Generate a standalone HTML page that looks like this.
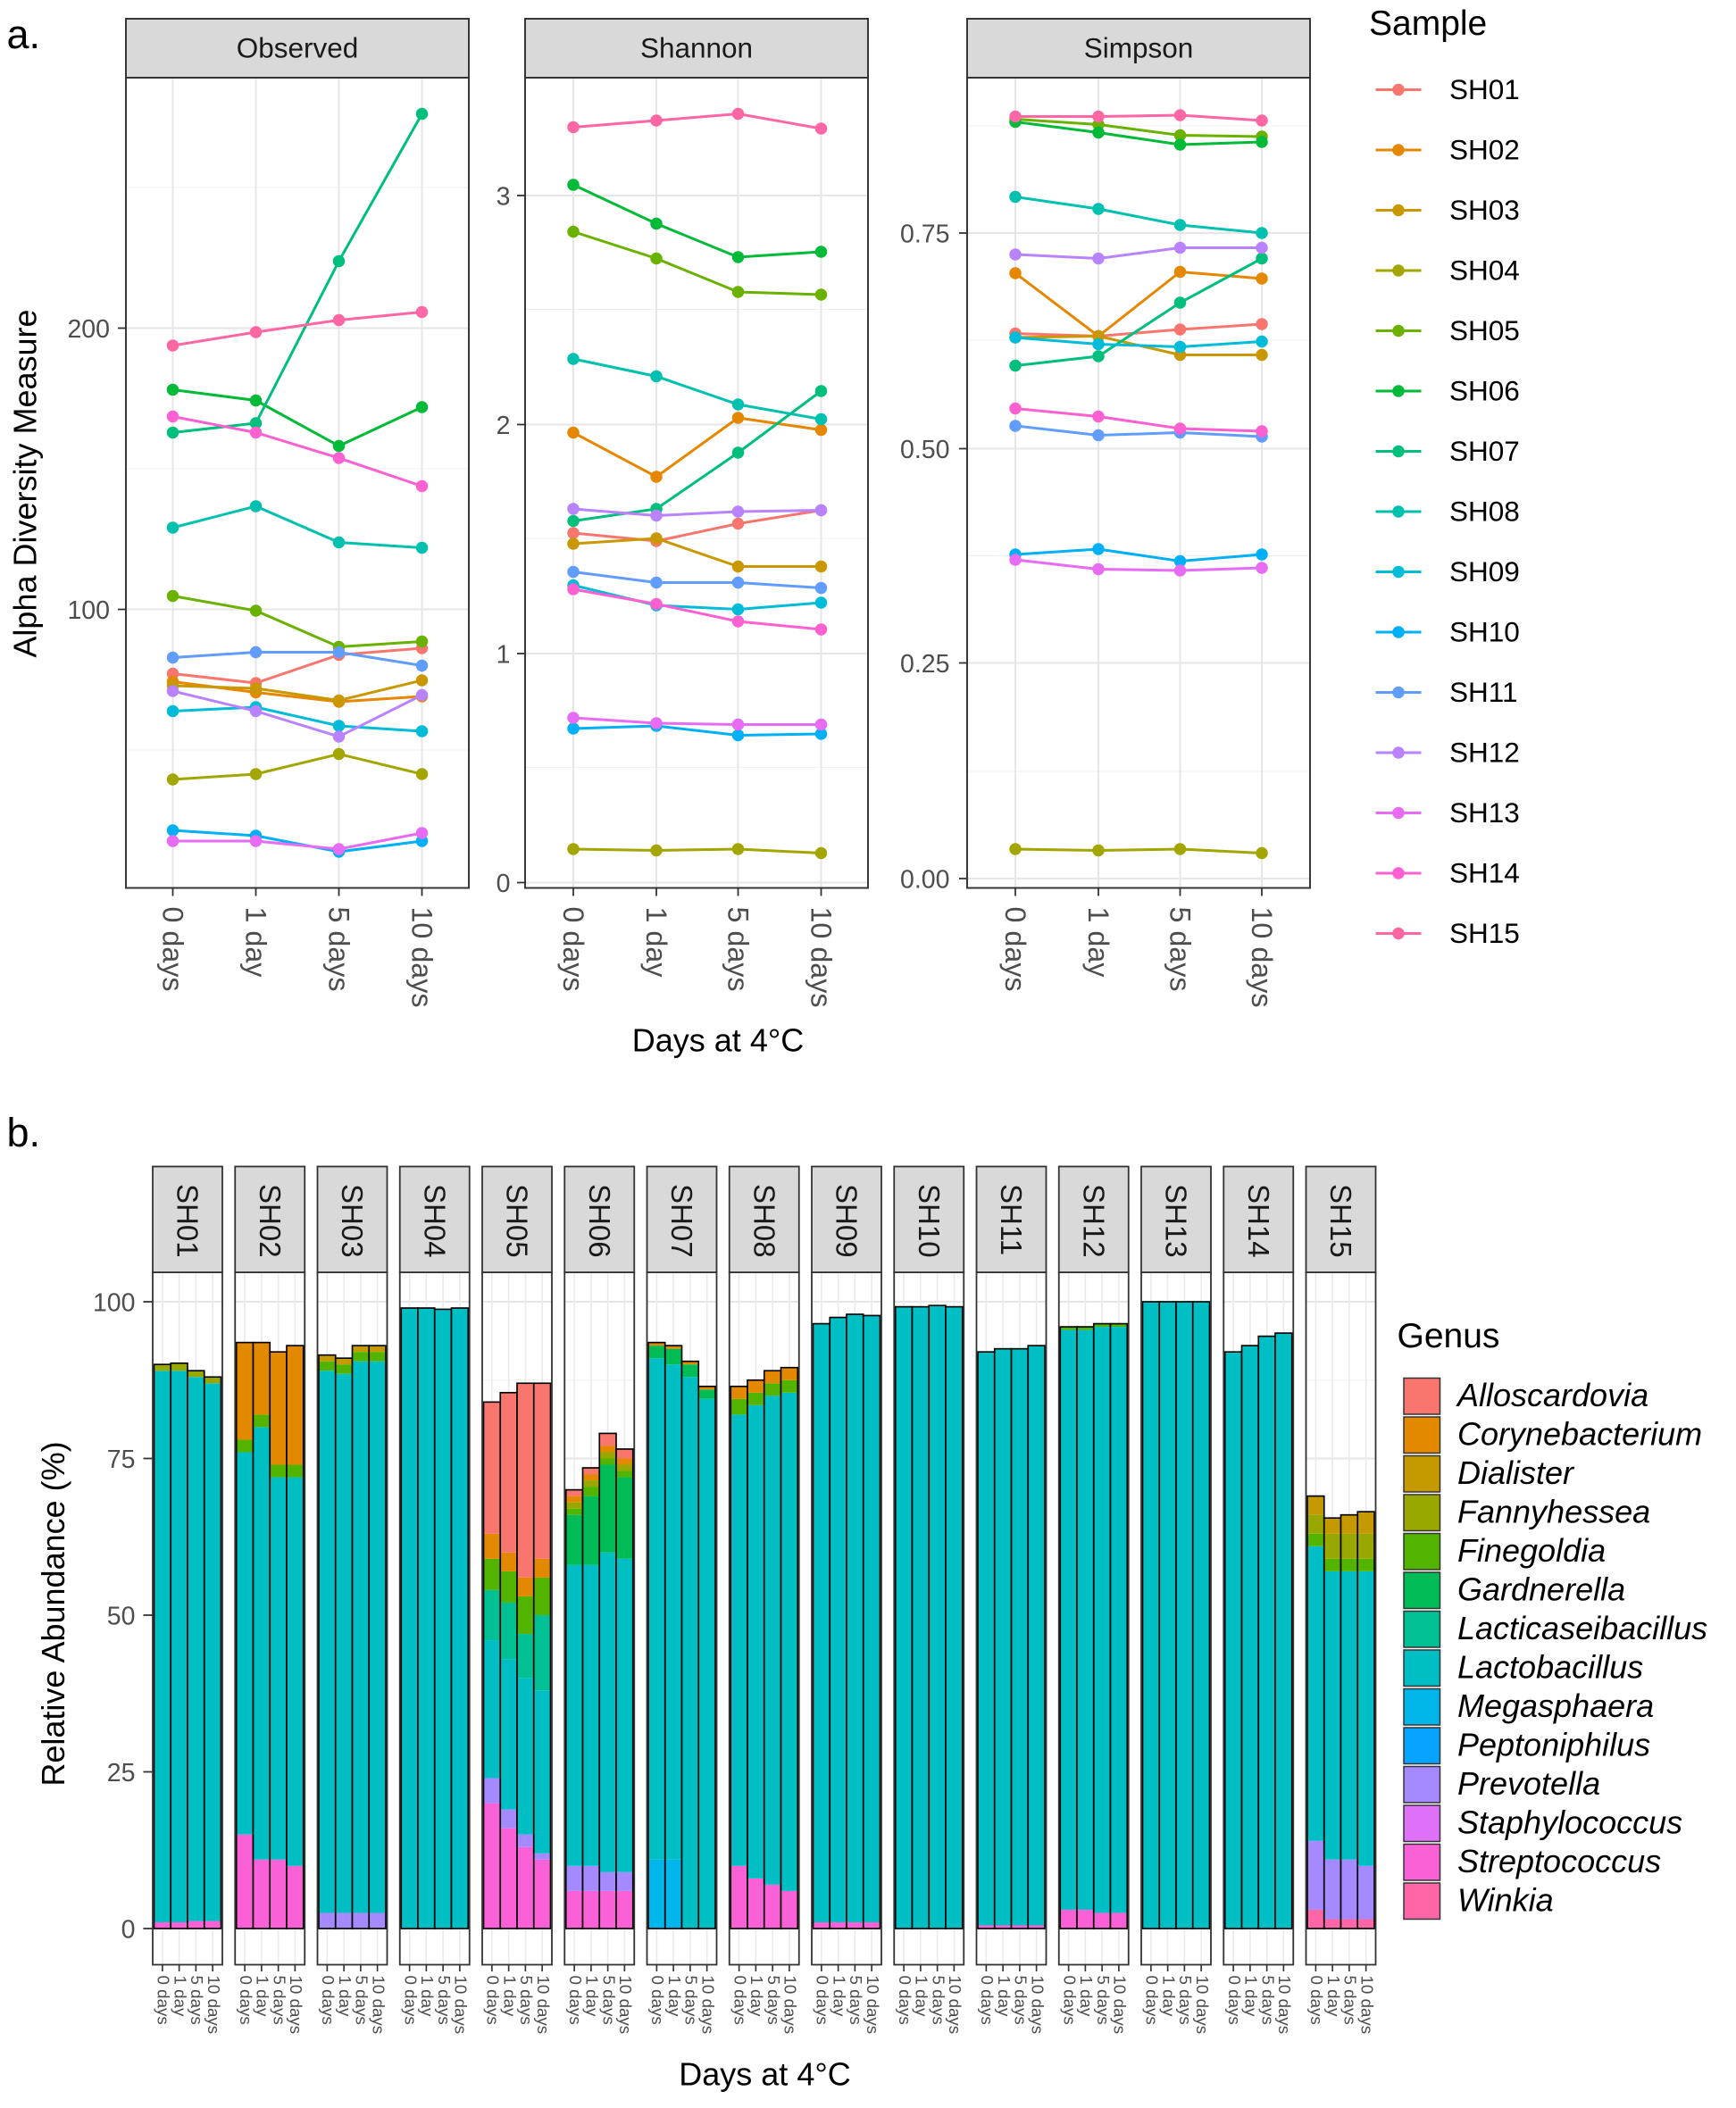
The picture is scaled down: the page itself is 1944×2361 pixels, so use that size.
<!DOCTYPE html>
<html><head><meta charset="utf-8"><style>
html,body{margin:0;padding:0;background:#fff;}
svg{display:block;font-family:"Liberation Sans",Arial,sans-serif;}
</style></head><body>
<svg id="s" xmlns="http://www.w3.org/2000/svg" width="1944" height="2361" viewBox="0 0 1296 1574">
<rect width="1296" height="1574" fill="#fff"/>
<g id="grid"></g>
<g id="data"></g>
<g id="frames"></g>
<g id="txt" fill="#4d4d4d" font-size="19">
<text x="5" y="36" font-size="30" fill="#000">a.</text>
<text x="5" y="856" font-size="30" fill="#000">b.</text>
<g fill="#1a1a1a" font-size="21" text-anchor="middle">
<text x="222" y="43">Observed</text><text x="520" y="43">Shannon</text><text x="850" y="43">Simpson</text>
</g>
<g text-anchor="end">
<text x="82" y="252">200</text><text x="82" y="462">100</text>
<text x="381" y="153">3</text><text x="381" y="324">2</text><text x="381" y="495">1</text><text x="381" y="666">0</text>
<text x="709" y="181">0.75</text><text x="709" y="342">0.50</text><text x="709" y="502">0.25</text><text x="709" y="663">0.00</text>
</g>
<g font-size="21.5" dominant-baseline="central">
<text transform="translate(129,677) rotate(90)">0 days</text><text transform="translate(191,677) rotate(90)">1 day</text><text transform="translate(253,677) rotate(90)">5 days</text><text transform="translate(315,677) rotate(90)">10 days</text>
<text transform="translate(428,677) rotate(90)">0 days</text><text transform="translate(490,677) rotate(90)">1 day</text><text transform="translate(551,677) rotate(90)">5 days</text><text transform="translate(613,677) rotate(90)">10 days</text>
<text transform="translate(758,677) rotate(90)">0 days</text><text transform="translate(820,677) rotate(90)">1 day</text><text transform="translate(881,677) rotate(90)">5 days</text><text transform="translate(942,677) rotate(90)">10 days</text>
</g>
<text transform="translate(27,361) rotate(-90)" text-anchor="middle" font-size="24" fill="#000">Alpha Diversity Measure</text>
<text x="536" y="785" text-anchor="middle" font-size="24" fill="#000">Days at 4°C</text>
<text x="1022" y="26" font-size="26" fill="#000">Sample</text>
<g font-size="21" fill="#000">
<text x="1082" y="74">SH01</text><text x="1082" y="119">SH02</text><text x="1082" y="164">SH03</text><text x="1082" y="209">SH04</text><text x="1082" y="254">SH05</text><text x="1082" y="299">SH06</text><text x="1082" y="344">SH07</text><text x="1082" y="389">SH08</text><text x="1082" y="434">SH09</text><text x="1082" y="479">SH10</text><text x="1082" y="524">SH11</text><text x="1082" y="569">SH12</text><text x="1082" y="614">SH13</text><text x="1082" y="659">SH14</text><text x="1082" y="704">SH15</text>
</g>
<g text-anchor="end">
<text x="101" y="979">100</text><text x="101" y="1096">75</text><text x="101" y="1213">50</text><text x="101" y="1330">25</text><text x="101" y="1447">0</text>
</g>
<text transform="translate(48,1205) rotate(-90)" text-anchor="middle" font-size="24" fill="#000">Relative Abundance (%)</text>
<text x="571" y="1557" text-anchor="middle" font-size="24" fill="#000">Days at 4°C</text>
<g font-size="22" fill="#1a1a1a" dominant-baseline="central">
<text transform="translate(140,884) rotate(90)">SH01</text><text transform="translate(201.5,884) rotate(90)">SH02</text><text transform="translate(263,884) rotate(90)">SH03</text><text transform="translate(324.5,884) rotate(90)">SH04</text><text transform="translate(386,884) rotate(90)">SH05</text><text transform="translate(447.5,884) rotate(90)">SH06</text><text transform="translate(509,884) rotate(90)">SH07</text><text transform="translate(570.5,884) rotate(90)">SH08</text><text transform="translate(632,884) rotate(90)">SH09</text><text transform="translate(693.5,884) rotate(90)">SH10</text><text transform="translate(755,884) rotate(90)">SH11</text><text transform="translate(816.5,884) rotate(90)">SH12</text><text transform="translate(878,884) rotate(90)">SH13</text><text transform="translate(939.5,884) rotate(90)">SH14</text><text transform="translate(1001,884) rotate(90)">SH15</text>
</g>
<text x="1043" y="1006" font-size="26" fill="#000">Genus</text>
<g font-size="24" fill="#000" font-style="italic">
<text x="1088" y="1050">Alloscardovia</text><text x="1088" y="1079">Corynebacterium</text><text x="1088" y="1108">Dialister</text><text x="1088" y="1137">Fannyhessea</text><text x="1088" y="1166">Finegoldia</text><text x="1088" y="1195">Gardnerella</text><text x="1088" y="1224">Lacticaseibacillus</text><text x="1088" y="1253">Lactobacillus</text><text x="1088" y="1282">Megasphaera</text><text x="1088" y="1311">Peptoniphilus</text><text x="1088" y="1340">Prevotella</text><text x="1088" y="1369">Staphylococcus</text><text x="1088" y="1398">Streptococcus</text><text x="1088" y="1427">Winkia</text>
</g>
<g id="btx" font-size="12.5" dominant-baseline="central">
<g transform="translate(114,0)"><text transform="translate(8,1475) rotate(90)">0 days</text><text transform="translate(20.5,1475) rotate(90)">1 day</text><text transform="translate(33,1475) rotate(90)">5 days</text><text transform="translate(45.5,1475) rotate(90)">10 days</text></g>
<g transform="translate(175.5,0)"><text transform="translate(8,1475) rotate(90)">0 days</text><text transform="translate(20.5,1475) rotate(90)">1 day</text><text transform="translate(33,1475) rotate(90)">5 days</text><text transform="translate(45.5,1475) rotate(90)">10 days</text></g>
<g transform="translate(237,0)"><text transform="translate(8,1475) rotate(90)">0 days</text><text transform="translate(20.5,1475) rotate(90)">1 day</text><text transform="translate(33,1475) rotate(90)">5 days</text><text transform="translate(45.5,1475) rotate(90)">10 days</text></g>
<g transform="translate(298.5,0)"><text transform="translate(8,1475) rotate(90)">0 days</text><text transform="translate(20.5,1475) rotate(90)">1 day</text><text transform="translate(33,1475) rotate(90)">5 days</text><text transform="translate(45.5,1475) rotate(90)">10 days</text></g>
<g transform="translate(360,0)"><text transform="translate(8,1475) rotate(90)">0 days</text><text transform="translate(20.5,1475) rotate(90)">1 day</text><text transform="translate(33,1475) rotate(90)">5 days</text><text transform="translate(45.5,1475) rotate(90)">10 days</text></g>
<g transform="translate(421.5,0)"><text transform="translate(8,1475) rotate(90)">0 days</text><text transform="translate(20.5,1475) rotate(90)">1 day</text><text transform="translate(33,1475) rotate(90)">5 days</text><text transform="translate(45.5,1475) rotate(90)">10 days</text></g>
<g transform="translate(483,0)"><text transform="translate(8,1475) rotate(90)">0 days</text><text transform="translate(20.5,1475) rotate(90)">1 day</text><text transform="translate(33,1475) rotate(90)">5 days</text><text transform="translate(45.5,1475) rotate(90)">10 days</text></g>
<g transform="translate(544.5,0)"><text transform="translate(8,1475) rotate(90)">0 days</text><text transform="translate(20.5,1475) rotate(90)">1 day</text><text transform="translate(33,1475) rotate(90)">5 days</text><text transform="translate(45.5,1475) rotate(90)">10 days</text></g>
<g transform="translate(606,0)"><text transform="translate(8,1475) rotate(90)">0 days</text><text transform="translate(20.5,1475) rotate(90)">1 day</text><text transform="translate(33,1475) rotate(90)">5 days</text><text transform="translate(45.5,1475) rotate(90)">10 days</text></g>
<g transform="translate(667.5,0)"><text transform="translate(8,1475) rotate(90)">0 days</text><text transform="translate(20.5,1475) rotate(90)">1 day</text><text transform="translate(33,1475) rotate(90)">5 days</text><text transform="translate(45.5,1475) rotate(90)">10 days</text></g>
<g transform="translate(729,0)"><text transform="translate(8,1475) rotate(90)">0 days</text><text transform="translate(20.5,1475) rotate(90)">1 day</text><text transform="translate(33,1475) rotate(90)">5 days</text><text transform="translate(45.5,1475) rotate(90)">10 days</text></g>
<g transform="translate(790.5,0)"><text transform="translate(8,1475) rotate(90)">0 days</text><text transform="translate(20.5,1475) rotate(90)">1 day</text><text transform="translate(33,1475) rotate(90)">5 days</text><text transform="translate(45.5,1475) rotate(90)">10 days</text></g>
<g transform="translate(852,0)"><text transform="translate(8,1475) rotate(90)">0 days</text><text transform="translate(20.5,1475) rotate(90)">1 day</text><text transform="translate(33,1475) rotate(90)">5 days</text><text transform="translate(45.5,1475) rotate(90)">10 days</text></g>
<g transform="translate(913.5,0)"><text transform="translate(8,1475) rotate(90)">0 days</text><text transform="translate(20.5,1475) rotate(90)">1 day</text><text transform="translate(33,1475) rotate(90)">5 days</text><text transform="translate(45.5,1475) rotate(90)">10 days</text></g>
<g transform="translate(975,0)"><text transform="translate(8,1475) rotate(90)">0 days</text><text transform="translate(20.5,1475) rotate(90)">1 day</text><text transform="translate(33,1475) rotate(90)">5 days</text><text transform="translate(45.5,1475) rotate(90)">10 days</text></g>
</g>
</g>
</svg>
<script>
var NS="http://www.w3.org/2000/svg";
function el(p,t,a){var e=document.createElementNS(NS,t);for(var k in a)e.setAttribute(k,a[k]);document.getElementById(p).appendChild(e);return e;}
var H15=["#F8766D","#E58700","#C99800","#A3A500","#6BB100","#00BA38","#00BF7D","#00C0AF","#00BCD8","#00B0F6","#619CFF","#B983FF","#E76BF3","#FD61D1","#FF67A4"];
var G14=["#F8766D","#E38900","#C49A00","#99A800","#53B400","#00BC56","#00C094","#00BFC4","#00B6EB","#06A4FF","#A58AFF","#DF70F8","#FB61D7","#FF66A8"];
var panels=[{x0:94,x1:350,xs:[129,191,253,315],maj:[245,455],min:[140,350,560],tick:88},
{x0:392,x1:648,xs:[428,490,551,613],maj:[146,317,488,659],min:[231,402,573],tick:386},
{x0:722,x1:978,xs:[758,820,881,942],maj:[174,335,495,656],min:[94,254,415,576],tick:716}];
panels.forEach(function(p){
 el("grid","rect",{x:p.x0,y:58,width:p.x1-p.x0,height:605,fill:"#fff"});
 p.min.forEach(function(y){el("grid","line",{x1:p.x0,x2:p.x1,y1:y,y2:y,stroke:"#f0f0f0","stroke-width":0.7});});
 p.maj.forEach(function(y){el("grid","line",{x1:p.x0,x2:p.x1,y1:y,y2:y,stroke:"#e6e6e6","stroke-width":1.3});
   el("frames","line",{x1:p.tick,x2:p.x0,y1:y,y2:y,stroke:"#333","stroke-width":1.2});});
 p.xs.forEach(function(x){el("grid","line",{x1:x,x2:x,y1:58,y2:663,stroke:"#e6e6e6","stroke-width":1.3});
   el("frames","line",{x1:x,x2:x,y1:663,y2:669,stroke:"#333","stroke-width":1.2});});
 el("frames","rect",{x:p.x0,y:58,width:p.x1-p.x0,height:605,fill:"none",stroke:"#333","stroke-width":1.3});
 el("frames","rect",{x:p.x0,y:14,width:p.x1-p.x0,height:44,fill:"#d9d9d9",stroke:"#333","stroke-width":1.3});
});
var D=[
[[503,510,489,484],[509,517,524,520],[512,514,523,508],[582,578,563,578],[445,456,483,479],[291,299,333,304],[323,316,195,85],[394,378,405,409],[531,528,542,546],[620,624,636,628],[491,487,487,497],[516,531,550,519],[628,628,634,622],[311,323,342,363],[258,248,239,233]],
[[398,404,391,381],[323,356,312,321],[406,402,423,423],[634,635,634,637],[173,193,218,220],[138,167,192,188],[389,380,338,292],[268,281,302,313],[437,452,455,450],[544,542,549,548],[427,435,435,439],[380,385,382,381],[536,540,541,541],[440,451,464,470],[95,90,85,96]],
[[249,251,246,242],[204,251,203,208],[252,251,265,265],[634,635,634,637],[89,93,101,102],[91,99,108,106],[273,266,226,193],[147,156,168,174],[252,257,259,255],[414,410,419,414],[318,325,323,326],[190,193,185,185],[418,425,426,424],[305,311,320,322],[87,87,86,90]]];
D.forEach(function(ser,pi){var xs=panels[pi].xs;
 ser.forEach(function(ys,si){var c=H15[si];
  el("data","polyline",{points:xs.map(function(x,i){return x+","+ys[i];}).join(" "),fill:"none",stroke:c,"stroke-width":2});
  xs.forEach(function(x,i){el("data","circle",{cx:x,cy:ys[i],r:4.5,fill:c});});
 });});
for(var i=0;i<15;i++){var y=67+45*i;el("data","line",{x1:1027,x2:1061,y1:y,y2:y,stroke:H15[i],"stroke-width":2});el("data","circle",{cx:1044,cy:y,r:4.5,fill:H15[i]});}
var B=[
[[[12,1],[7,88],[3,1]],[[12,1],[7,88],[3,1.2]],[[12,1.2],[7,86.8],[3,1]],[[12,1.2],[7,85.8],[3,1]]],
[[[12,15],[7,61],[4,2],[1,15.5]],[[12,11],[7,69],[4,2],[1,11.5]],[[12,11],[7,61],[4,2],[1,18]],[[12,10],[7,62],[4,2],[1,19]]],
[[[10,2.5],[7,86.5],[4,1.5],[2,1]],[[10,2.5],[7,86],[4,1.5],[2,1]],[[10,2.5],[7,88],[4,1.5],[2,1]],[[10,2.5],[7,88],[4,1.5],[2,1]]],
[[[7,99]],[[7,99]],[[7,98.8]],[[7,99]]],
[[[12,20],[10,4],[7,22],[6,8],[4,5],[1,4],[0,21]],[[12,16],[10,3],[7,24],[6,9],[4,5],[1,3],[0,25.5]],[[12,13],[10,2],[7,25],[6,7],[4,6],[1,3],[0,31]],[[12,11],[10,1],[7,26],[6,12],[4,6],[1,3],[0,28]]],
[[[12,6],[10,4],[7,48],[5,8],[4,1],[3,1],[1,1],[0,1]],[[12,6],[10,4],[7,48],[5,11],[4,1.5],[3,1],[1,1],[0,1]],[[12,6],[10,3],[7,51],[5,14],[4,1],[3,1],[1,1],[0,2]],[[12,6],[10,3],[7,50],[5,13],[4,1],[3,1],[1,1],[0,1.5]]],
[[[8,11],[7,80],[5,2],[1,0.5]],[[8,11],[7,79],[5,2.5],[1,0.5]],[[8,0],[7,88],[5,2],[1,0.5]],[[7,84.5],[5,1.5],[1,0.5]]],
[[[12,10],[7,72],[4,2.5],[1,2]],[[12,8],[7,75.5],[4,2],[1,2]],[[12,7],[7,78],[4,2],[1,2]],[[12,6],[7,79.5],[4,2],[1,2]]],
[[[12,1],[7,95.5]],[[12,1],[7,96.5]],[[12,1],[7,97]],[[12,1],[7,96.8]]],
[[[7,99.2]],[[7,99.2]],[[7,99.4]],[[7,99.2]]],
[[[12,0.5],[7,91.5]],[[12,0.5],[7,92]],[[12,0.5],[7,92]],[[12,0.5],[7,92.5]]],
[[[12,3],[7,92.5],[4,0.5]],[[12,3],[7,92.5],[4,0.5]],[[12,2.5],[7,93.5],[4,0.5]],[[12,2.5],[7,93.5],[4,0.5]]],
[[[7,100]],[[7,100]],[[7,100]],[[7,100]]],
[[[7,92]],[[7,93]],[[7,94.5]],[[7,95]]],
[[[13,3],[10,11],[7,47],[4,2],[3,3],[2,3]],[[13,1.5],[10,9.5],[7,46],[4,2],[3,4],[2,2.5]],[[13,1.5],[10,9.5],[7,46],[4,2],[3,4],[2,3]],[[13,1.5],[10,8.5],[7,47],[4,2],[3,4],[2,3.5]]]
];
var Y0=1440,K=4.68;
for(var f=0;f<15;f++){var x0=114+61.5*f;
 el("grid","rect",{x:x0,y:950,width:52,height:517,fill:"#fff"});
 [12.5,37.5,62.5,87.5].forEach(function(v){var y=Y0-v*K;el("grid","line",{x1:x0,x2:x0+52,y1:y,y2:y,stroke:"#f0f0f0","stroke-width":0.7});});
 [0,25,50,75,100].forEach(function(v){var y=Y0-v*K;el("grid","line",{x1:x0,x2:x0+52,y1:y,y2:y,stroke:"#e6e6e6","stroke-width":1.3});});
 for(var b=0;b<4;b++){var cx=x0+7.25+12.5*b;
  el("grid","line",{x1:cx,x2:cx,y1:950,y2:1467,stroke:"#ebebeb","stroke-width":1.1});
  el("frames","line",{x1:cx,x2:cx,y1:1467,y2:1472,stroke:"#333","stroke-width":1.1});
  var bx=x0+1+12.5*b,acc=0;
  B[f][b].forEach(function(s){var h=s[1]*K;el("data","rect",{x:bx,y:Y0-acc-h,width:12.5,height:h,fill:G14[s[0]]});acc+=h;});
  el("data","rect",{x:bx,y:Y0-acc,width:12.5,height:acc,fill:"none",stroke:"#000","stroke-width":1.1});
 }
 el("frames","rect",{x:x0,y:950,width:52,height:517,fill:"none",stroke:"#333","stroke-width":1.2});
 el("frames","rect",{x:x0,y:871,width:52,height:79,fill:"#d9d9d9",stroke:"#333","stroke-width":1.2});
}
[0,25,50,75,100].forEach(function(v){var y=Y0-v*K;el("frames","line",{x1:107,x2:114,y1:y,y2:y,stroke:"#333","stroke-width":1.2});});
for(var g=0;g<14;g++){el("data","rect",{x:1048,y:1029+29*g,width:27,height:27,fill:G14[g],stroke:"#333","stroke-width":1});}
</script>
</body></html>
